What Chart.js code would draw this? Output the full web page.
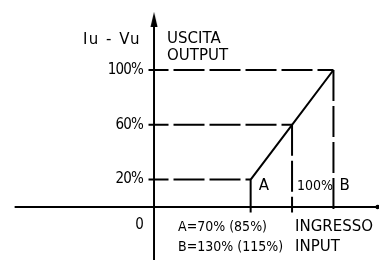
<!DOCTYPE html>
<html>
<head>
<meta charset="utf-8">
<script src="https://cdn.jsdelivr.net/npm/chart.js@4/dist/chart.umd.min.js"></script>
<style>
  html, body { margin: 0; padding: 0; background: #fff; }
  #wrap { width: 379px; height: 260px; }
</style>
</head>
<body>
<div id="wrap"><canvas id="transferChart" width="379" height="260"></canvas></div>
<script>
// ─── Data ──────────────────────────
const inputPct = [70, 100, 130];          // A, 100%, B on the input axis
const outputPct = [20, 60, 100];          // output level at each input point
const outputTickLabels = ['20%', '60%', '100%'];
const inputTickLabels = ['A', '100%', 'B'];
const notes = ['A=70% (85%)', 'B=130% (115%)'];
const inputTitle = ['INGRESSO', 'INPUT'];
const outputTitle = ['USCITA', 'OUTPUT'];
const yQuantity = 'Iu - Vu';

const INK = '#000';
const TICK_FONT = '15px "DejaVu Sans Condensed", "DejaVu Sans", sans-serif';
const NUM_FONT = '14px "DejaVu Sans Condensed", "DejaVu Sans", sans-serif';
const WORD_FONT = '15px "DejaVu Sans", sans-serif';

// arrow head for the vertical axis
const arrow = document.createElement('canvas');
arrow.width = 8; arrow.height = 15;
(function () {
    const a = arrow.getContext('2d');
    a.fillStyle = INK;
    a.beginPath();
    a.moveTo(4, 0); a.lineTo(7.5, 15); a.lineTo(0.5, 15);
    a.closePath();
    a.fill();
})();

const solid = (pts, extra) => Object.assign({
    data: pts, showLine: true, borderColor: INK, borderWidth: 2,
    pointRadius: 0, fill: false, tension: 0
}, extra || {});

const dashed = (pts, offset) => solid(pts, { borderDash: [31, 5], borderDashOffset: offset || 0 });

const datasets = [
    // axes
    solid([{ x: 0, y: -40 }, { x: 0, y: 137 }]),
    solid([{ x: 0, y: 137 }], { pointRadius: 5, pointStyle: arrow, showLine: false }),
    solid([{ x: -101, y: 0 }, { x: 162, y: 0 }], { pointRadius: [0, 2.2], pointBackgroundColor: INK, pointBorderWidth: 0 }),
    // transfer line: foot at A, then ramp to B
    solid([{ x: inputPct[0], y: -4 }].concat(inputPct.map((v, i) => ({ x: v, y: outputPct[i] }))))
];

// dashed guides
outputPct.forEach((lvl, i) => {
    datasets.push(dashed([{ x: -4, y: lvl }, { x: inputPct[i], y: lvl }], 11));
    if (i > 0) datasets.push(dashed([{ x: inputPct[i], y: lvl }, { x: inputPct[i], y: -4 }], 0));
});

// ─── Labels drawn through the scales ──────────────────────────
const labelPlugin = {
    id: 'labels',
    afterDatasetsDraw(chart) {
        const { ctx, scales: { x, y } } = chart;
        const x0 = x.getPixelForValue(0), y0 = y.getPixelForValue(0);
        ctx.save();
        ctx.fillStyle = INK;
        ctx.textBaseline = 'middle';

        ctx.font = TICK_FONT;
        ctx.letterSpacing = '-0.8px';
        ctx.textAlign = 'right';
        outputPct.forEach((lvl, i) => ctx.fillText(outputTickLabels[i], x0 - 11, y.getPixelForValue(lvl)));
        ctx.fillText('0', x0 - 11, y0 + 18);
        ctx.letterSpacing = '0px';

        ctx.font = NUM_FONT;
        ctx.textAlign = 'left';
        ctx.fillText(inputTickLabels[1], x.getPixelForValue(inputPct[1]) + 5, y0 - 21);
        notes.forEach((t, i) => ctx.fillText(t, x0 + 24, y0 + 20 + i * 20));

        ctx.font = WORD_FONT;
        ctx.textAlign = 'left';
        ctx.fillText(outputTitle[0], x0 + 13, 39);
        ctx.fillText(outputTitle[1], x0 + 13, 56);
        ctx.fillText(inputTickLabels[0], x.getPixelForValue(inputPct[0]) + 8, y0 - 21);
        ctx.fillText(inputTickLabels[2], x.getPixelForValue(inputPct[2]) + 6, y0 - 21);
        inputTitle.forEach((t, i) => ctx.fillText(t, x.getPixelForValue(inputPct[1]) + 3, y0 + 20 + i * 20));

        ctx.textAlign = 'right';
        ctx.letterSpacing = '1.5px';
        ctx.fillText(yQuantity, x0 - 13, 40);
        ctx.restore();
    }
};

new Chart(document.getElementById('transferChart'), {
    type: 'scatter',
    data: { datasets },
    options: {
        responsive: false,
        animation: false,
        layout: { padding: 0, autoPadding: false },
        plugins: { legend: { display: false }, tooltip: { enabled: false } },
        scales: {
            x: { type: 'linear', display: false, min: -111.6, max: 163.0 },
            y: { type: 'linear', display: false, min: -38.7, max: 151.1 }
        }
    },
    plugins: [labelPlugin]
});
</script>
</body>
</html>
